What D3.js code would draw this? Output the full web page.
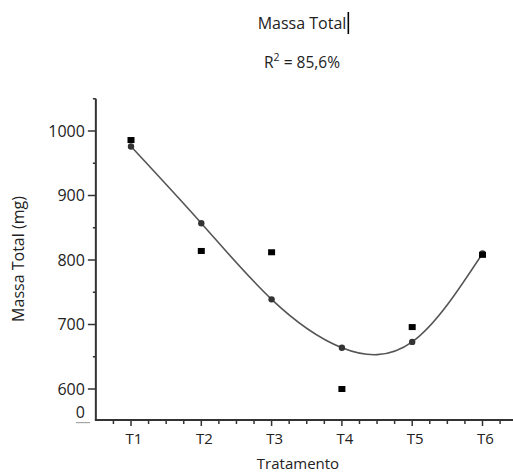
<!DOCTYPE html>
<html>
<head>
<meta charset="utf-8">
<script src="https://cdn.jsdelivr.net/npm/d3@7"></script>
<style>
  html, body { margin: 0; padding: 0; background: #fff; }
  svg { display: block; }
  text { font-family: "Open Sans", "Noto Sans", sans-serif; fill: #222; }
</style>
</head>
<body>
<svg id="chart" width="513" height="472"></svg>
<script>
// ---- data ----
const categories = ["T1", "T2", "T3", "T4", "T5", "T6"];
const observed = [986, 814, 812, 600, 696, 808];
const fitted = [976, 857, 739, 664, 673, 810];
const yMajorTicks = [600, 700, 800, 900, 1000];
const yMinorTicks = [650, 750, 850, 950, 1050];
const titleText = "Massa Total";
const r2Text = "85,6%";
const xTitle = "Tratamento";
const yTitle = "Massa Total (mg)";

const svg = d3.select("#chart");
const W = 513, H = 472;

// scales
const x = d3.scaleLinear().domain([1, 6]).range([131, 482.5]);
const y = d3.scaleLinear().domain([600, 1000]).range([389, 131]);
const axisColor = "#333";
const x0 = x(0.5), yBase = 420, yTop = y(1050);

// Title
const t = svg.append("text").attr("x", 302).attr("y", 29)
  .attr("text-anchor", "middle").style("font-size", "16px").text(titleText);
const tw = t.node().getComputedTextLength();
svg.append("line").attr("x1", 302 + tw / 2 + 2).attr("x2", 302 + tw / 2 + 2)
  .attr("y1", 12).attr("y2", 34).attr("stroke", "#000").attr("stroke-width", 1.6);

// R2
const r2 = svg.append("text").attr("x", 302).attr("y", 68)
  .attr("text-anchor", "middle").style("font-size", "15.5px");
r2.append("tspan").text("R");
r2.append("tspan").attr("dy", -7).style("font-size", "10.5px").text("2");
r2.append("tspan").attr("dy", 7).text(" = " + r2Text);

// Y axis
svg.append("line").attr("x1", x0).attr("x2", x0).attr("y1", yTop).attr("y2", yBase)
  .attr("stroke", axisColor).attr("stroke-width", 2);
const yg = svg.append("g");
yg.selectAll("line.maj").data(yMajorTicks).enter().append("line")
  .attr("x1", x0 - 8).attr("x2", x0).attr("y1", d => y(d)).attr("y2", d => y(d))
  .attr("stroke", axisColor).attr("stroke-width", 1.5);
yg.selectAll("line.min").data(yMinorTicks).enter().append("line")
  .attr("x1", x0 - 3).attr("x2", x0).attr("y1", d => y(d)).attr("y2", d => y(d))
  .attr("stroke", axisColor).attr("stroke-width", 1.5);
yg.selectAll("text").data(yMajorTicks).enter().append("text")
  .attr("x", x0 - 11).attr("y", d => y(d)).attr("dy", "0.35em")
  .attr("text-anchor", "end").style("font-size", "16px").text(d => d);
svg.append("text").attr("x", x0 - 11).attr("y", yBase - 2)
  .attr("text-anchor", "end").style("font-size", "16px").text("0");
// wavy underline under 0
function wavy(x1, x2, yy) {
  let p = `M${x1},${yy}`;
  for (let xx = x1; xx < x2; xx += 2) p += ` L${xx + 1},${yy + 1.2} L${xx + 2},${yy}`;
  return p;
}
svg.append("path").attr("d", wavy(76, 89, yBase + 2)).attr("fill", "none")
  .attr("stroke", "#888").attr("stroke-width", 0.8);

// Y title
svg.append("text").attr("transform", `translate(24,259) rotate(-90)`)
  .attr("text-anchor", "middle").style("font-size", "16px").text(yTitle);

// X axis
svg.append("line").attr("x1", x0 - 1).attr("x2", W).attr("y1", yBase).attr("y2", yBase)
  .attr("stroke", axisColor).attr("stroke-width", 2);
const xMinor = d3.range(0.75, 6.5, 0.25).filter(v => Math.abs(v - Math.round(v)) > 1e-6);
svg.selectAll("line.xmin").data(xMinor).enter().append("line")
  .attr("x1", d => x(d)).attr("x2", d => x(d)).attr("y1", yBase).attr("y2", yBase + 4)
  .attr("stroke", axisColor).attr("stroke-width", 1.5);
svg.selectAll("line.xmaj").data(categories).enter().append("line")
  .attr("x1", (d, i) => x(i + 1)).attr("x2", (d, i) => x(i + 1))
  .attr("y1", yBase).attr("y2", yBase + 6)
  .attr("stroke", axisColor).attr("stroke-width", 1.5);
svg.selectAll("text.xl").data(categories).enter().append("text")
  .attr("x", (d, i) => x(i + 1) + 3).attr("y", yBase + 24)
  .attr("text-anchor", "middle").style("font-size", "15px").text(d => d);
svg.append("text").attr("x", 298).attr("y", 469)
  .attr("text-anchor", "middle").style("font-size", "15px").text(xTitle);

// fitted curve
const line = d3.line().x((d, i) => x(i + 1)).y(d => y(d)).curve(d3.curveNatural);
svg.append("path").datum(fitted).attr("d", line).attr("fill", "none")
  .attr("stroke", "#555").attr("stroke-width", 1.6);

// fitted points
svg.selectAll("circle").data(fitted).enter().append("circle")
  .attr("cx", (d, i) => x(i + 1)).attr("cy", d => y(d)).attr("r", 3.2)
  .attr("fill", "#333");

// observed squares
svg.selectAll("rect.obs").data(observed).enter().append("rect")
  .attr("x", (d, i) => x(i + 1) - 3.5).attr("y", d => y(d) - 3)
  .attr("width", 7).attr("height", 6).attr("fill", "#000");
</script>
</body>
</html>
